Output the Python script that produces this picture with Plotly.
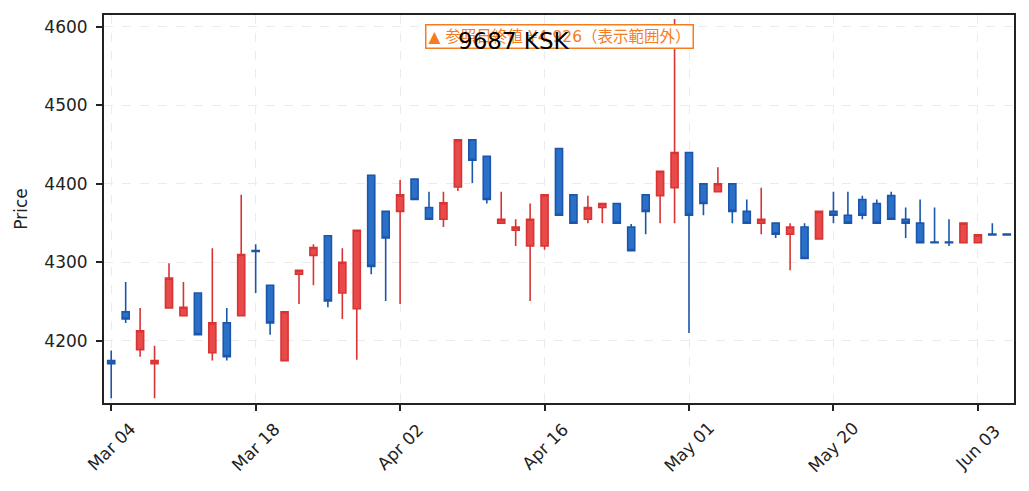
import plotly.graph_objects as go

# trading days shown on the chart (category axis, one candle per day)
dates = [
    "2024-03-04", "2024-03-05", "2024-03-06", "2024-03-07", "2024-03-08",
    "2024-03-11", "2024-03-12", "2024-03-13", "2024-03-14", "2024-03-15",
    "2024-03-18", "2024-03-19", "2024-03-21", "2024-03-22", "2024-03-25",
    "2024-03-26", "2024-03-27", "2024-03-28", "2024-03-29", "2024-04-01",
    "2024-04-02", "2024-04-03", "2024-04-04", "2024-04-05", "2024-04-08",
    "2024-04-09", "2024-04-10", "2024-04-11", "2024-04-12", "2024-04-15",
    "2024-04-16", "2024-04-17", "2024-04-18", "2024-04-19", "2024-04-22",
    "2024-04-23", "2024-04-24", "2024-04-25", "2024-04-26", "2024-04-30",
    "2024-05-01", "2024-05-07", "2024-05-08", "2024-05-09", "2024-05-10",
    "2024-05-13", "2024-05-14", "2024-05-15", "2024-05-16", "2024-05-17",
    "2024-05-20", "2024-05-21", "2024-05-22", "2024-05-23", "2024-05-24",
    "2024-05-27", "2024-05-28", "2024-05-29", "2024-05-30", "2024-05-31",
    "2024-06-03", "2024-06-04", "2024-06-05",
]

open_ = [
    4175, 4237, 4189, 4171, 4242, 4232, 4261, 4185, 4223, 4232,
    4315, 4271, 4175, 4285, 4309, 4334, 4261, 4241, 4411, 4365,
    4365, 4406, 4370, 4355, 4396, 4456, 4435, 4350, 4341, 4321,
    4321, 4445, 4386, 4355, 4370, 4375, 4345, 4386, 4385, 4395,
    4440, 4400, 4390, 4400, 4365, 4350, 4350, 4336, 4345, 4330,
    4365, 4360, 4380, 4375, 4385, 4355, 4350, 4326, 4326, 4325,
    4325, 4336, 4336,
]
close = [
    4171, 4228, 4213, 4175, 4280, 4243, 4208, 4223, 4180, 4310,
    4314, 4223, 4237, 4290, 4319, 4251, 4300, 4341, 4295, 4331,
    4386, 4380, 4355, 4376, 4456, 4430, 4380, 4355, 4345, 4355,
    4386, 4360, 4350, 4370, 4375, 4350, 4315, 4365, 4416, 4440,
    4360, 4375, 4400, 4365, 4350, 4355, 4336, 4345, 4305, 4365,
    4360, 4350, 4360, 4350, 4355, 4350, 4325, 4325, 4325, 4350,
    4335, 4335, 4335,
]
high = [
    4188, 4275, 4242, 4194, 4299, 4275, 4261, 4318, 4242, 4386,
    4323, 4271, 4237, 4291, 4323, 4334, 4318, 4341, 4411, 4365,
    4405, 4406, 4390, 4390, 4456, 4456, 4435, 4390, 4355, 4375,
    4386, 4445, 4386, 4385, 4375, 4375, 4349, 4386, 4416, 4610,
    4440, 4400, 4421, 4400, 4380, 4395, 4350, 4350, 4350, 4365,
    4390, 4390, 4385, 4380, 4390, 4370, 4380, 4370, 4355, 4350,
    4335, 4350, 4336,
]
low = [
    4127, 4223, 4180, 4127, 4242, 4231, 4208, 4175, 4175, 4231,
    4261, 4208, 4175, 4247, 4271, 4243, 4228, 4176, 4285, 4251,
    4247, 4380, 4355, 4345, 4391, 4401, 4375, 4350, 4321, 4251,
    4316, 4360, 4350, 4350, 4350, 4350, 4315, 4336, 4350, 4350,
    4210, 4360, 4390, 4350, 4350, 4336, 4331, 4290, 4305, 4330,
    4350, 4350, 4355, 4350, 4355, 4331, 4325, 4325, 4321, 4325,
    4325, 4335, 4335,
]

tick_dates = ["2024-03-04", "2024-03-18", "2024-04-02", "2024-04-16",
              "2024-05-01", "2024-05-20", "2024-06-03"]
tick_labels = ["Mar 04", "Mar 18", "Apr 02", "Apr 16", "May 01", "May 20", "Jun 03"]
price_ticks = [4200, 4300, 4400, 4500, 4600]

FONT = "DejaVu Sans, Noto Sans CJK JP"

fig = go.Figure()
fig.add_trace(go.Candlestick(
    x=dates, open=open_, high=high, low=low, close=close,
    increasing=dict(fillcolor="#e84a4a", line=dict(color="#d83434", width=1.6)),
    decreasing=dict(fillcolor="#2b70c8", line=dict(color="#1c56aa", width=1.6)),
    whiskerwidth=0,
    showlegend=False,
))

# date labels: rotated 45 deg and centred under each tick
for d, lab in zip(tick_dates, tick_labels):
    fig.add_annotation(
        x=d, y=-0.113, xref="x", yref="paper",
        xanchor="center", yanchor="middle",
        text=lab, textangle=-45, showarrow=False,
        font=dict(family=FONT, size=17, color="#222222"),
    )

# reference close is outside the visible price range
fig.add_annotation(
    x=0.5, y=0.977, xref="paper", yref="paper",
    xanchor="center", yanchor="top",
    text="▲ 参照日終値 ¥4,926（表示範囲外）",
    showarrow=False,
    font=dict(family=FONT, size=15.5, color="#f57c1f"),
    bgcolor="white", bordercolor="#f57c1f", borderwidth=1.5, borderpad=2,
)
# title drawn as an annotation so it sits on top of the note box
fig.add_annotation(
    x=0.45, y=0.933, xref="paper", yref="paper",
    xanchor="center", yanchor="middle",
    text="9687 KSK", showarrow=False,
    font=dict(family=FONT, size=23, color="black"),
)

fig.update_layout(
    width=1013, height=475,
    margin=dict(l=96, r=5, t=6, b=80),
    font=dict(family=FONT, size=17, color="#222222"),
    plot_bgcolor="white", paper_bgcolor="white",
    xaxis=dict(
        type="category", rangeslider=dict(visible=False),
        range=[-0.5, len(dates) - 0.5],
        tickvals=tick_dates, showticklabels=False,
        showline=True, linecolor="#222222", linewidth=2, mirror=True,
        ticks="outside", ticklen=6, tickwidth=2, tickcolor="#222222",
        showgrid=True, gridcolor="#ebebeb", griddash="dash", gridwidth=1,
    ),
    yaxis=dict(
        range=[4121, 4615], tickvals=price_ticks, ticklabelstandoff=5,
        title=dict(text="Price", font=dict(size=17), standoff=12),
        showline=True, linecolor="#222222", linewidth=2, mirror=True,
        ticks="outside", ticklen=6, tickwidth=2, tickcolor="#222222",
        showgrid=True, gridcolor="#ebebeb", griddash="dash", gridwidth=1,
        zeroline=False,
    ),
)

fig.write_html("out.html", config={"displayModeBar": False})
